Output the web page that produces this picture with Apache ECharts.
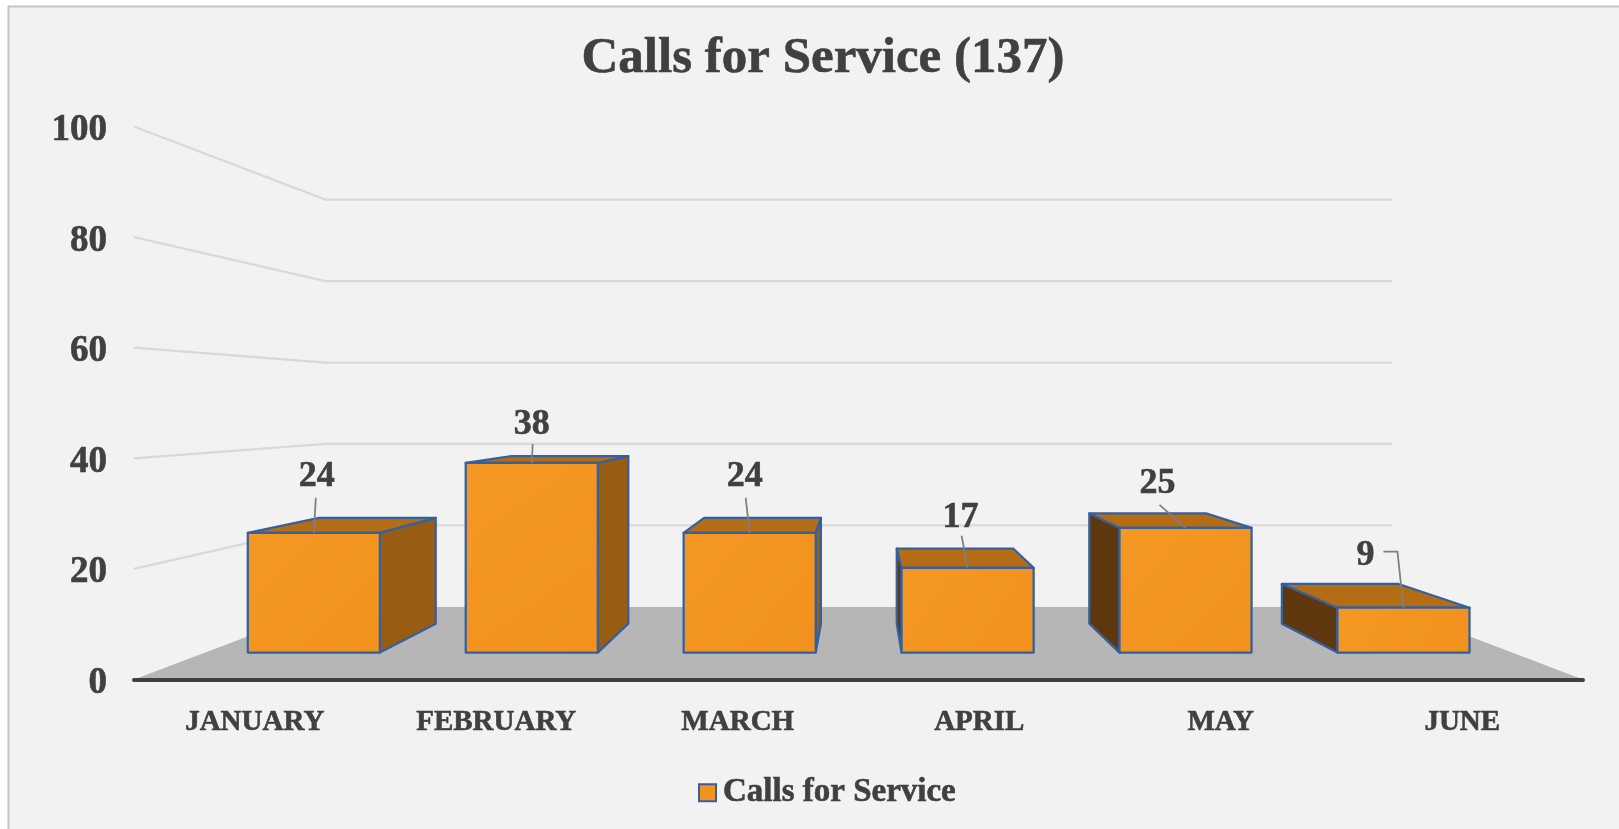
<!DOCTYPE html>
<html>
<head>
<meta charset="utf-8">
<title>Calls for Service</title>
<script src="https://cdn.jsdelivr.net/npm/echarts@6/dist/echarts.min.js"></script>
<style>
    html, body { margin: 0; padding: 0; background: #ffffff; }
    #chart { width: 1619px; height: 829px; }
</style>
</head>
<body>
<div id="chart"></div>
<script>
const months = ['JANUARY', 'FEBRUARY', 'MARCH', 'APRIL', 'MAY', 'JUNE'];
const calls = [24, 38, 24, 17, 25, 9];
const yTicks = [0, 20, 40, 60, 80, 100];
const titleText = 'Calls for Service (137)';
const seriesName = 'Calls for Service';

// label leader lines, relative to the top centre of each bar's front face
const leaderPaths = [
    [[2, -35]],
    [[1, -19]],
    [[-4, -35]],
    [[-6, -32]],
    [[-26, -23]],
    [[-6, -56], [-20, -56]]
];
const labelOffsets = [[3, -56], [0, -38], [-5, -56], [-7, -50], [-28, -44], [-38, -52]];

// fake perspective, the value axis is the front plane of the box
const vanish = [860, 404];
const wallScale = 0.7364;
const barFrontScale = 0.9024;
const barBackScale = 0.7974;
const barRatio = 0.606;

const fontFamily = '"Liberation Serif", serif';
const textColor = '#404040';
const barEdge = '#35609f';

// Liberation Serif is lighter than the original face, thicken it a little
const heavyText = { textBorderColor: textColor, textBorderWidth: 0.6 };

function project(pt, s) {
    return [vanish[0] + (pt[0] - vanish[0]) * s, vanish[1] + (pt[1] - vanish[1]) * s];
}

function renderGridLine(params, api) {
    const rect = params.coordSys;
    const y = api.coord([0, api.value(0)])[1];
    const start = [rect.x, y];
    const points = [
        start,
        project(start, wallScale),
        project([rect.x + rect.width, y], wallScale)
    ];
    return {
        type: 'polyline',
        shape: { points: points },
        style: { fill: 'none', stroke: '#d9d9d9', lineWidth: 2.25 },
        silent: true
    };
}

function renderFloor(params, api) {
    const rect = params.coordSys;
    const y = api.coord([0, 0])[1];
    const left = [rect.x, y];
    const right = [rect.x + rect.width, y];
    return {
        type: 'polygon',
        shape: { points: [left, project(left, wallScale), project(right, wallScale), right] },
        style: { fill: '#b6b6b6' },
        silent: true
    };
}

function face(points, fill) {
    return {
        type: 'polygon',
        shape: { points: points },
        style: { fill: fill, stroke: barEdge, lineWidth: 2.25, lineJoin: 'round' }
    };
}

function renderBar(params, api) {
    const i = api.value(0);
    const top = api.coord([i, api.value(1)]);
    const base = api.coord([i, 0]);
    const half = api.size([1, 0])[0] * barRatio / 2;

    const corner = (x, y, s) => project([x, y], s);
    const xl = top[0] - half;
    const xr = top[0] + half;

    const flb = corner(xl, base[1], barFrontScale);
    const frb = corner(xr, base[1], barFrontScale);
    const flt = corner(xl, top[1], barFrontScale);
    const frt = corner(xr, top[1], barFrontScale);
    const blb = corner(xl, base[1], barBackScale);
    const brb = corner(xr, base[1], barBackScale);
    const blt = corner(xl, top[1], barBackScale);
    const brt = corner(xr, top[1], barBackScale);

    const children = [];
    if (xr < vanish[0]) children.push(face([frb, frt, brt, brb], '#985c12'));
    if (xl > vanish[0]) children.push(face([flb, flt, blt, blb], '#5f370e'));
    children.push(face([flt, frt, brt, blt], '#b46d14'));
    const front = face([flb, frb, frt, flt], new echarts.graphic.LinearGradient(0, 0, 1, 1, [
        { offset: 0, color: '#f59723' },
        { offset: 1, color: '#f1921f' }
    ]));
    children.push(front);

    const anchor = [(flt[0] + frt[0]) / 2, flt[1]];
    const leader = [anchor].concat(leaderPaths[i].map(d => [anchor[0] + d[0], anchor[1] + d[1]]));
    children.push({
        type: 'polyline',
        shape: { points: leader },
        style: { fill: 'none', stroke: '#7f7f7f', lineWidth: 1.75 }
    });
    children.push({
        type: 'text',
        x: anchor[0] + labelOffsets[i][0],
        y: anchor[1] + labelOffsets[i][1],
        style: {
            text: String(api.value(1)),
            fill: textColor,
            font: 'bold 36px ' + fontFamily,
            align: 'center',
            verticalAlign: 'middle',
            stroke: textColor,
            lineWidth: 0.6
        }
    });
    return { type: 'group', children: children };
}

const chart = echarts.init(document.getElementById('chart'), null, { renderer: 'canvas' });

chart.setOption({
    animation: false,
    backgroundColor: '#ffffff',
    graphic: [{
        type: 'rect',
        z: -10,
        shape: { x: 8.5, y: 6.5, width: 1640, height: 840 },
        style: { fill: '#f2f2f2', stroke: '#c4c4c4', lineWidth: 2 }
    }],
    title: {
        text: titleText,
        left: 818,
        top: 28,
        textAlign: 'center',
        textStyle: Object.assign({ fontFamily: fontFamily, fontWeight: 'bold', fontSize: 51, color: textColor }, heavyText)
    },
    legend: {
        data: [seriesName],
        left: 693,
        top: 771,
        icon: 'rect',
        itemWidth: 17,
        itemHeight: 17,
        itemGap: 6,
        textStyle: Object.assign({ fontFamily: fontFamily, fontWeight: 'bold', fontSize: 33, color: textColor, padding: [0, 0, 0, 2] }, heavyText)
    },
    grid: { left: 134, right: 36, top: 126.5, bottom: 149.5 },
    xAxis: {
        type: 'category',
        data: months,
        z: 3,
        axisTick: { show: false },
        axisLine: { lineStyle: { color: '#404040', width: 4, cap: 'round' } },
        axisLabel: Object.assign({
            margin: 29,
            interval: 0,
            fontFamily: fontFamily,
            fontWeight: 'bold',
            fontSize: 29,
            color: textColor
        }, heavyText)
    },
    yAxis: {
        type: 'value',
        min: 0,
        max: 100,
        interval: 20,
        axisLine: { show: false },
        axisTick: { show: false },
        splitLine: { show: false },
        axisLabel: Object.assign({
            margin: 27,
            fontFamily: fontFamily,
            fontWeight: 'bold',
            fontSize: 37,
            color: textColor,
            verticalAlign: 'top',
            lineHeight: 8
        }, heavyText)
    },
    series: [
        {
            type: 'custom',
            name: 'gridlines',
            coordinateSystem: 'cartesian2d',
            z: 1,
            silent: true,
            renderItem: renderGridLine,
            encode: { y: 0 },
            data: yTicks.slice(1).map(v => [v])
        },
        {
            type: 'custom',
            name: 'floor',
            coordinateSystem: 'cartesian2d',
            z: 1,
            silent: true,
            renderItem: renderFloor,
            data: [[0]]
        },
        {
            type: 'custom',
            name: seriesName,
            coordinateSystem: 'cartesian2d',
            z: 2,
            itemStyle: { color: '#f29321', borderColor: barEdge, borderWidth: 2.25 },
            renderItem: renderBar,
            encode: { x: 0, y: 1 },
            data: months.map((m, i) => [i, calls[i]])
        }
    ]
});

window.addEventListener('resize', () => chart.resize());
</script>
</body>
</html>
